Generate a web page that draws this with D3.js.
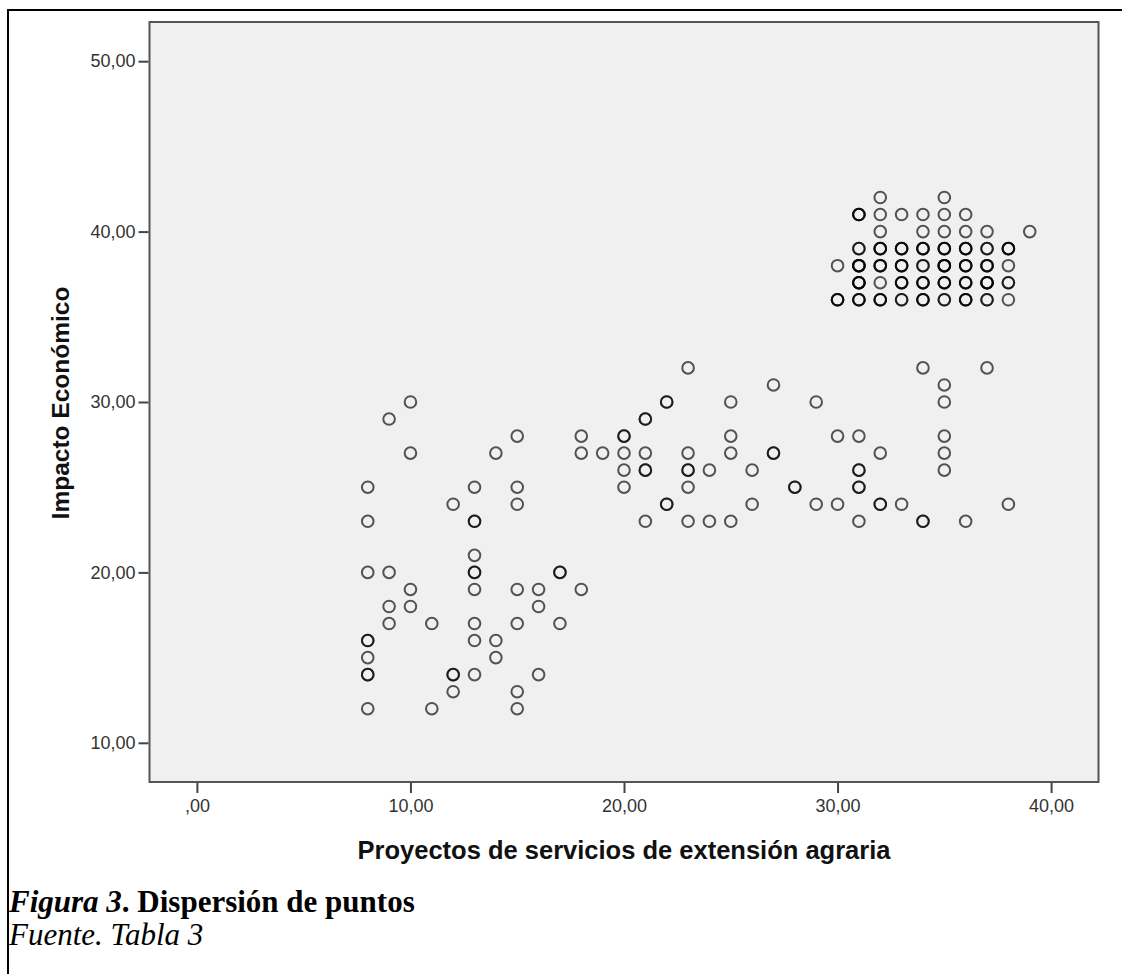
<!DOCTYPE html>
<html>
<head>
<meta charset="utf-8">
<script src="https://cdn.jsdelivr.net/npm/d3@7"></script>
<style>
  html, body { margin: 0; padding: 0; background: #fff; }
  svg { display: block; }
</style>
</head>
<body>
<svg id="chart" width="1122" height="974"></svg>
<script>
// Impacto Económico levels (one row of cases per level)
const impactoNiveles = [42, 41, 40, 39, 38, 37, 36, 32, 31, 30, 29, 28, 27, 26, 25, 24, 23, 21, 20, 19, 18, 17, 16, 15, 14, 13, 12];

// Proyectos de servicios de extensión agraria, per level (repeats = overlapping cases)
const proyectosPorNivel = [
    [32, 35],
    [31, 31, 31, 32, 33, 34, 35, 36],
    [32, 34, 35, 36, 37, 39],
    [31, 31, 32, 32, 32, 33, 33, 33, 34, 34, 34, 35, 35, 35, 36, 36, 36, 37, 37, 38, 38, 38],
    [30, 31, 31, 31, 31, 32, 32, 32, 33, 33, 33, 34, 34, 35, 35, 35, 35, 36, 36, 36, 37, 37, 37, 38],
    [31, 31, 31, 31, 32, 33, 33, 33, 34, 34, 34, 35, 35, 35, 36, 36, 36, 37, 37, 37, 37, 38, 38],
    [30, 30, 30, 31, 31, 31, 32, 32, 32, 33, 33, 34, 34, 34, 35, 35, 36, 36, 36, 37, 37, 38],
    [23, 34, 37],
    [27, 35],
    [10, 22, 22, 25, 29, 35],
    [9, 21, 21],
    [15, 18, 20, 20, 25, 30, 31, 35],
    [10, 14, 18, 19, 20, 21, 23, 25, 27, 27, 32, 35],
    [20, 21, 21, 23, 23, 24, 26, 31, 31, 35],
    [8, 13, 15, 20, 23, 28, 28, 31, 31],
    [12, 15, 22, 22, 26, 29, 30, 32, 32, 33, 38],
    [8, 13, 13, 21, 23, 24, 25, 31, 34, 34, 36],
    [13],
    [8, 9, 13, 13, 17, 17],
    [10, 13, 15, 16, 18],
    [9, 10, 16],
    [9, 11, 13, 15, 17],
    [8, 8, 13, 14],
    [8, 14],
    [8, 8, 12, 12, 13, 16],
    [12, 15],
    [8, 11, 15]
];

const xTicks = [0, 10, 20, 30, 40];
const yTicks = [10, 20, 30, 40, 50];
const xTitulo = "Proyectos de servicios de extensión agraria";
const yTitulo = "Impacto Económico";

// flatten into cases
let casos = [];
impactoNiveles.forEach((nivel, i) => {
    for (let p of proyectosPorNivel[i]) {
        casos.push({ x: p, y: nivel });
    }
});

const plot = { left: 149.5, right: 1098.5, top: 22, bottom: 782 };

const x = d3.scaleLinear().domain([-2.22, 42.22]).range([plot.left, plot.right]);
const y = d3.scaleLinear().domain([7.7, 52.3]).range([plot.bottom, plot.top]);

const fmt = (d) => d === 0 ? ",00" : d3.format(".2f")(d).replace(".", ",");

let svg = d3.select('#chart');

// outer figure border
svg.append('rect')
    .attr('x', 8).attr('y', 10)
    .attr('width', 1140).attr('height', 1000)
    .attr('fill', 'none')
    .attr('stroke', '#000')
    .attr('stroke-width', 2);

// plot area
svg.append('rect')
    .attr('x', plot.left).attr('y', plot.top)
    .attr('width', plot.right - plot.left)
    .attr('height', plot.bottom - plot.top)
    .attr('fill', '#f0f0f0')
    .attr('stroke', '#555')
    .attr('stroke-width', 2);

// axes
let yAxis = svg.append('g')
    .attr('transform', `translate(${plot.left - 1},0)`)
    .call(d3.axisLeft(y).tickValues(yTicks).tickFormat(fmt).tickSize(10).tickPadding(3));

let xAxis = svg.append('g')
    .attr('transform', `translate(0,${plot.bottom + 1})`)
    .call(d3.axisBottom(x).tickValues(xTicks).tickFormat(fmt).tickSize(10).tickPadding(6));

for (let ax of [xAxis, yAxis]) {
    ax.select('.domain').remove();
    ax.selectAll('.tick line').attr('stroke', '#444').attr('stroke-width', 2);
    ax.selectAll('.tick text')
        .attr('fill', '#333')
        .style('font-family', '"Liberation Sans", Arial, sans-serif')
        .style('font-size', '18px');
}

// points
svg.append('g')
    .selectAll('circle')
    .data(casos)
    .enter()
    .append('circle')
    .attr('cx', (d) => x(d.x))
    .attr('cy', (d) => y(d.y))
    .attr('r', 5.8)
    .attr('fill', 'none')
    .attr('stroke', 'rgba(0,0,0,0.66)')
    .attr('stroke-width', 2);

// axis titles
svg.append('text')
    .attr('x', (plot.left + plot.right) / 2)
    .attr('y', 859)
    .attr('text-anchor', 'middle')
    .style('font-family', '"Liberation Sans", Arial, sans-serif')
    .style('font-weight', 'bold')
    .style('font-size', '25.5px')
    .attr('fill', '#111')
    .text(xTitulo);

svg.append('text')
    .attr('transform', 'translate(69,403) rotate(-90)')
    .attr('text-anchor', 'middle')
    .style('font-family', '"Liberation Sans", Arial, sans-serif')
    .style('font-weight', 'bold')
    .style('font-size', '24.5px')
    .attr('fill', '#111')
    .text(yTitulo);

// caption
let cap = svg.append('text')
    .attr('x', 9)
    .attr('y', 912)
    .style('font-family', '"Liberation Serif", "Times New Roman", serif')
    .style('font-size', '31px')
    .style('font-weight', 'bold')
    .attr('fill', '#000');
cap.append('tspan').style('font-style', 'italic').text('Figura 3');
cap.append('tspan').text('. Dispersión de puntos');

svg.append('text')
    .attr('x', 9)
    .attr('y', 945)
    .style('font-family', '"Liberation Serif", "Times New Roman", serif')
    .style('font-size', '31px')
    .style('font-style', 'italic')
    .attr('fill', '#000')
    .text('Fuente. Tabla 3');
</script>
</body>
</html>
